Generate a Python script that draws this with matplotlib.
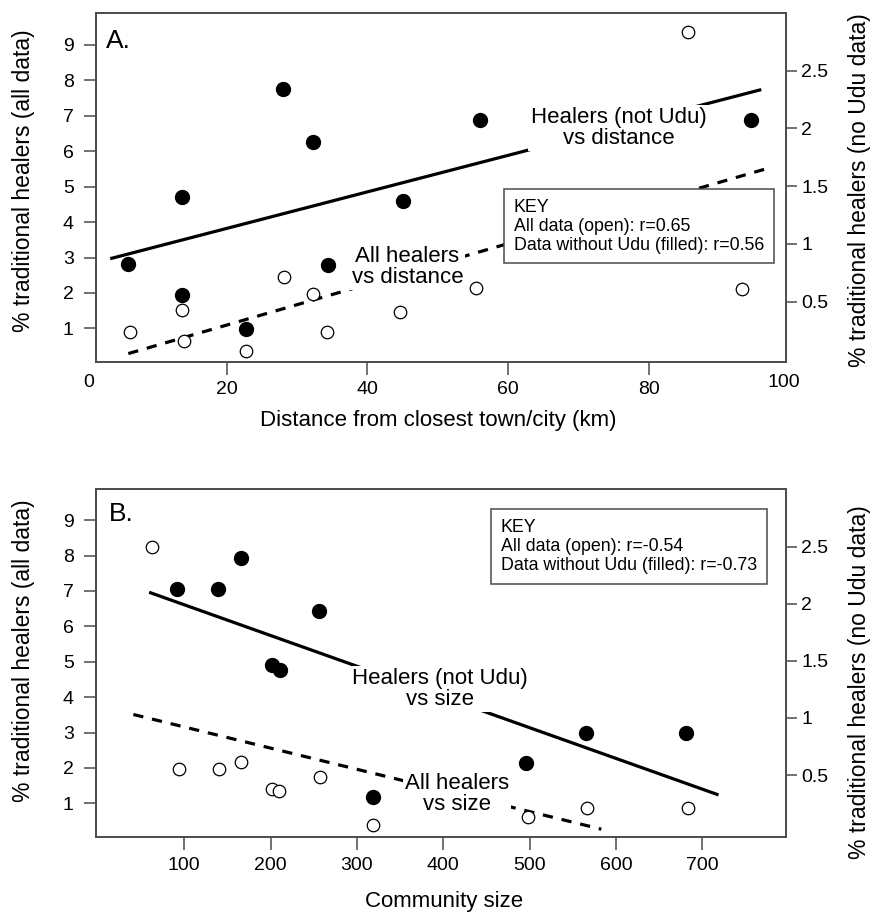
import matplotlib
matplotlib.use('Agg')
import matplotlib.pyplot as plt
import matplotlib.transforms as mtransforms

plt.rcParams['font.family'] = ['Liberation Sans', 'DejaVu Sans']

# ---- Panel A: distance from closest town/city (km) ----
a_open_x = [6.3, 13.7, 13.9, 22.8, 28.1, 32.2, 34.2, 44.7, 55.4, 85.6, 93.3]
a_open_y = [0.90, 1.52, 0.64, 0.36, 2.44, 1.97, 0.89, 1.45, 2.13, 9.36, 2.12]   # left axis (all data)
a_fill_x = [5.9, 13.6, 13.7, 28.0, 32.2, 22.8, 34.4, 45.1, 56.0, 94.6]
a_fill_y = [0.83, 1.41, 0.56, 2.34, 1.88, 0.26, 0.82, 1.37, 2.07, 2.07]          # right axis (no Udu)
a_fit_open_x = [6.0, 97.0]
a_fit_open_y = [0.29, 5.52]
a_fit_fill_x = [3.65, 95.8]
a_fit_fill_y = [0.876, 2.333]

# ---- Panel B: community size ----
b_open_x = [63, 94, 140, 166, 202, 210, 257, 319, 498, 567, 683]
b_open_y = [8.25, 1.96, 1.96, 2.18, 1.40, 1.35, 1.75, 0.39, 0.62, 0.88, 0.86]
b_fill_x = [92, 139, 166, 256, 202, 211, 318, 496, 565, 681]
b_fill_y = [2.13, 2.13, 2.40, 1.94, 1.46, 1.42, 0.31, 0.61, 0.87, 0.87]
b_fit_open_x = [41, 583]
b_fit_open_y = [3.51, 0.27]
b_fit_fill_x = [61, 717]
b_fit_fill_y = [2.096, 0.331]

left_ticks = [1, 2, 3, 4, 5, 6, 7, 8, 9]
right_ticks = [0.5, 1, 1.5, 2, 2.5]
right_labels = ['0.5', '1', '1.5', '2', '2.5']

EDGE = '#4a4a4a'
TICK_FS = 14
XLABEL_FS = 16
YLABEL_FS = 16.5
NOTE_FS = 16


def style_axes(ax, ax2):
    for a in (ax, ax2):
        for sp in a.spines.values():
            sp.set_color(EDGE)
            sp.set_linewidth(1.2)
    ax.tick_params(axis='both', direction='out', length=9, width=1.1, color=EDGE,
                   labelsize=TICK_FS, right=False, top=False)
    ax.tick_params(axis='y', pad=7)
    ax.tick_params(axis='x', pad=5)
    ax2.tick_params(axis='y', direction='out', length=8, width=1.1, color=EDGE,
                    labelsize=TICK_FS, pad=3)
    ax.set_yticks(left_ticks)
    ax.set_yticklabels([str(t) for t in left_ticks])
    ax2.set_yticks(right_ticks)
    ax2.set_yticklabels(right_labels)


def draw_panel(ax, ox, oy, fx, fy, fit_ox, fit_oy, fit_fx, fit_fy):
    ax2 = ax.twinx()
    ax.plot(fit_ox, fit_oy, color='black', lw=2.3, ls=(0, (3.2, 2.8)),
            dash_capstyle='butt', zorder=2)
    ax.plot(ox, oy, 'o', ms=9, mfc='white', mec='black', mew=0.9, ls='none', zorder=3)
    ax2.plot(fit_fx, fit_fy, color='black', lw=2.3, zorder=2)
    ax2.plot(fx, fy, 'o', ms=10, mfc='black', mec='black', ls='none', zorder=3)
    return ax2


def note(ax2, ax, x, y, s):
    # curve label sitting on a white patch that breaks the fit line
    ax2.text(x, y, s, transform=ax.transData, fontsize=NOTE_FS, ha='center', va='center',
             linespacing=1.0, bbox=dict(boxstyle='square,pad=0.1', fc='white', ec='none'),
             zorder=5)


def key(ax2, x, y, s):
    ax2.text(x, y, s, transform=ax2.transAxes, fontsize=12.8, ha='left', va='center',
             linespacing=1.15,
             bbox=dict(boxstyle='square,pad=0.55', fc='white', ec=EDGE, lw=1.1), zorder=6)


fig = plt.figure(figsize=(8.71, 9.13), dpi=100)
axA = fig.add_axes([0.1102, 0.6038, 0.7919, 0.3820])
axB = fig.add_axes([0.1102, 0.0829, 0.7919, 0.3815])

# Panel A
axA2 = draw_panel(axA, a_open_x, a_open_y, a_fill_x, a_fill_y,
                  a_fit_open_x, a_fit_open_y, a_fit_fill_x, a_fit_fill_y)
axA.set_xlim(1.4, 99.5)
axA.set_ylim(0.06, 9.9)
axA2.set_ylim(-0.02, 3.0)
axA.set_xticks([20, 40, 60, 80])
style_axes(axA, axA2)
bt = mtransforms.blended_transform_factory(axA.transData, axA.transAxes)
for v, s in ((0.3, '0'), (99.2, '100')):
    axA.text(v, -0.035, s, transform=bt, ha='center', va='top', fontsize=TICK_FS,
             clip_on=False)
axA.set_xlabel('Distance from closest town/city (km)', fontsize=XLABEL_FS)
axA.xaxis.set_label_coords(0.496, -0.137)
axA.set_ylabel('% traditional healers (all data)', fontsize=YLABEL_FS)
axA.yaxis.set_label_coords(-0.0884, 0.52)
axA2.set_ylabel('% traditional healers (no Udu data)', fontsize=YLABEL_FS)
axA2.yaxis.set_label_coords(1.090, 0.492)

axA2.text(0.015, 0.921, 'A.', transform=axA2.transAxes, fontsize=19, ha='left', va='center')
note(axA2, axA, 45.7, 2.74, 'All healers\nvs distance')
note(axA2, axA, 75.7, 6.66, 'Healers (not Udu)\nvs distance')
key(axA2, 0.606, 0.389, 'KEY\nAll data (open): r=0.65\nData without Udu (filled): r=0.56')

# Panel B
axB2 = draw_panel(axB, b_open_x, b_open_y, b_fill_x, b_fill_y,
                  b_fit_open_x, b_fit_open_y, b_fit_fill_x, b_fit_fill_y)
axB.set_xlim(-2.3, 796.6)
axB.set_ylim(0.04, 9.88)
axB2.set_ylim(-0.045, 3.005)
axB.set_xticks([100, 200, 300, 400, 500, 600, 700])
style_axes(axB, axB2)
axB.set_xlabel('Community size', fontsize=XLABEL_FS)
axB.xaxis.set_label_coords(0.504, -0.154)
axB.set_ylabel('% traditional healers (all data)', fontsize=YLABEL_FS)
axB.yaxis.set_label_coords(-0.0884, 0.536)
axB2.set_ylabel('% traditional healers (no Udu data)', fontsize=YLABEL_FS)
axB2.yaxis.set_label_coords(1.090, 0.446)

axB2.text(0.019, 0.927, 'B.', transform=axB2.transAxes, fontsize=19, ha='left', va='center')
note(axB2, axB, 396, 4.23, 'Healers (not Udu)\nvs size')
note(axB2, axB, 416, 1.26, 'All healers\nvs size')
key(axB2, 0.587, 0.8355, 'KEY\nAll data (open): r=-0.54\nData without Udu (filled): r=-0.73')

fig.savefig('out.png', dpi=100)
